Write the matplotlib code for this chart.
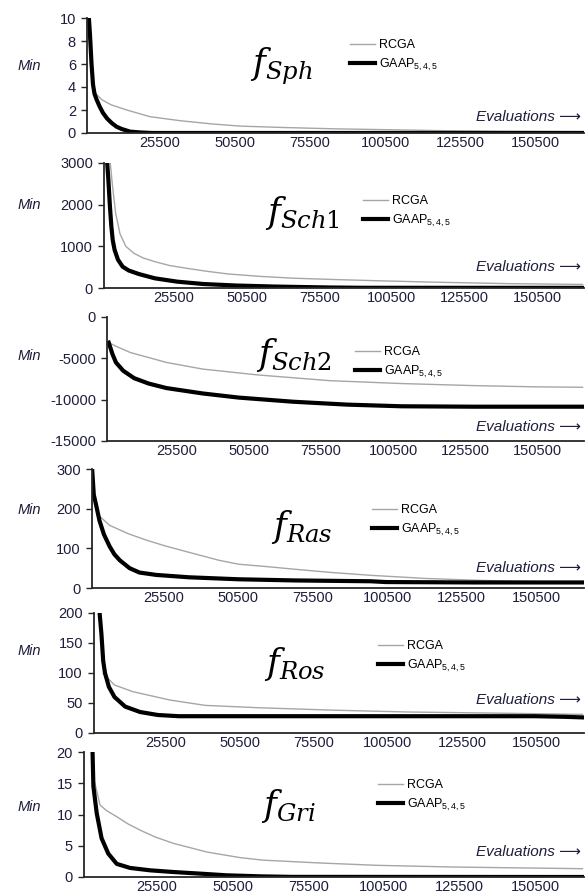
import matplotlib
matplotlib.use('Agg')
import matplotlib.pyplot as plt

plt.rcParams['font.family'] = ['Liberation Sans', 'DejaVu Sans']
plt.rcParams['axes.unicode_minus'] = False
plt.rcParams['mathtext.fontset'] = 'custom'
plt.rcParams['mathtext.rm'] = 'Liberation Sans'
plt.rcParams['mathtext.it'] = 'Liberation Sans:italic'
plt.rcParams['mathtext.bf'] = 'Liberation Sans:bold'

# ---- data ----
x_ticks = [25500, 50500, 75500, 100500, 125500, 150500]
names = ['Sph', 'Sch1', 'Sch2', 'Ras', 'Ros', 'Gri']

sph_rcga_x = [3300, 4500, 6400, 9500, 14700, 22400, 32400, 43300, 52300, 66500, 84000, 105000, 120000, 140000, 166000]
sph_rcga_y = [4.2, 3.4, 2.9, 2.45, 2.0, 1.42, 1.07, 0.78, 0.6, 0.48, 0.36, 0.27, 0.2, 0.15, 0.12]
sph_gaap_x = [2000, 2500, 3000, 3500, 4000, 4700, 5700, 6800, 8200, 9700, 11300, 13000, 15800, 19000, 23000, 166000]
sph_gaap_y = [10.5, 8.5, 6.0, 4.2, 3.4, 2.9, 2.3, 1.75, 1.25, 0.87, 0.55, 0.35, 0.12, 0.05, 0.0, 0.0]

sch1_rcga_x = [3500, 4500, 5500, 7000, 9000, 11800, 15000, 19000, 24000, 30000, 37000, 44300, 55000, 66500, 80000, 95000, 115000, 140000, 166000]
sch1_rcga_y = [3100, 2400, 1800, 1300, 1000, 833, 720, 632, 540, 472, 400, 336, 280, 235, 205, 175, 140, 105, 85]
sch1_gaap_x = [2500, 3000, 3500, 4000, 4500, 5150, 6300, 7900, 10000, 13450, 19000, 26700, 35600, 46700, 60000, 79000, 90000, 166000]
sch1_gaap_y = [3100, 2600, 2000, 1500, 1150, 912, 680, 512, 420, 336, 232, 152, 96, 60, 35, 12, 5, 3]

sch2_rcga_x = [2100, 5000, 9600, 22100, 34600, 53400, 78400, 103400, 128400, 150000, 166000]
sch2_rcga_y = [-3100, -3600, -4300, -5500, -6300, -7000, -7700, -8050, -8300, -8450, -8500]
sch2_gaap_x = [2100, 3400, 4600, 7100, 10900, 15900, 22100, 34600, 47100, 65900, 84600, 103400, 128400, 166000]
sch2_gaap_y = [-3100, -4500, -5500, -6500, -7400, -8050, -8600, -9250, -9750, -10250, -10600, -10800, -10850, -10850]

ras_rcga_x = [3600, 7400, 13600, 20000, 26100, 33000, 44000, 50600, 60000, 69900, 82000, 94900, 113600, 132400, 150000, 166000]
ras_rcga_y = [184, 158, 137, 120, 106, 92, 70, 60, 54, 47, 39, 32, 24, 19, 16, 15]
ras_gaap_x = [1500, 2100, 3000, 4000, 5500, 7400, 9000, 10800, 14100, 17400, 23000, 34000, 50600, 70000, 95000, 100000, 130000, 166000]
ras_gaap_y = [305, 235, 205, 170, 135, 105, 85, 70, 50, 39, 33, 27, 22, 19, 17, 15, 14, 14]

ros_rcga_x = [4600, 8400, 14500, 27000, 39000, 57400, 82400, 107400, 138600, 166000]
ros_rcga_y = [99, 80, 69, 55, 46, 42, 38, 35, 33, 31]
ros_gaap_x = [3300, 4000, 4600, 5200, 6500, 8400, 12000, 17000, 23000, 30000, 150000, 160000, 166000]
ros_gaap_y = [205, 165, 120, 100, 77, 60, 44, 35, 30, 28, 28, 27, 26]

gri_rcga_x = [5100, 6800, 9000, 12300, 16000, 20000, 25000, 30900, 42000, 53000, 60500, 79000, 98000, 123000, 148000, 166000]
gri_rcga_y = [15.0, 11.5, 10.6, 9.65, 8.5, 7.5, 6.4, 5.4, 4.0, 3.1, 2.7, 2.25, 1.87, 1.6, 1.44, 1.33]
gri_gaap_x = [4300, 4600, 5700, 7300, 9500, 12300, 16700, 23300, 30900, 39800, 48600, 60000, 70000, 166000]
gri_gaap_y = [20.5, 14.5, 10.2, 6.2, 3.75, 2.1, 1.45, 1.07, 0.8, 0.54, 0.27, 0.1, 0.02, 0.0]

y_limits = [(0, 10), (0, 3000), (-15000, 0), (0, 300), (0, 200), (0, 20)]
y_steps = [2, 1000, 5000, 100, 50, 5]

rcga = [(sph_rcga_x, sph_rcga_y), (sch1_rcga_x, sch1_rcga_y), (sch2_rcga_x, sch2_rcga_y),
        (ras_rcga_x, ras_rcga_y), (ros_rcga_x, ros_rcga_y), (gri_rcga_x, gri_rcga_y)]
gaap = [(sph_gaap_x, sph_gaap_y), (sch1_gaap_x, sch1_gaap_y), (sch2_gaap_x, sch2_gaap_y),
        (ras_gaap_x, ras_gaap_y), (ros_gaap_x, ros_gaap_y), (gri_gaap_x, gri_gaap_y)]

# ---- layout in pixels (left, top, bottom) of each plot area ----
W, H = 587, 894
RIGHT = 584
boxes = [(87, 18, 133), (104, 163, 288), (107, 317, 441),
         (92, 469, 588), (94, 613, 733), (84, 752, 877)]
title_pos = [(281, 66), (302, 213), (294, 355), (302, 527), (295, 664), (288, 806)]
legend_pos = [(350, 56), (363, 212), (355, 363), (372, 521), (378, 657), (378, 796)]
min_y = [66, 205, 356, 510, 651, 807]
eval_off = [16, 21, 14, 20, 33, 25]

txt_col = '#1e1e3c'

fig = plt.figure(figsize=(W / 100, H / 100), dpi=100)

for i in range(6):
    l, t, b = boxes[i]
    ax = fig.add_axes([l / W, 1 - b / H, (RIGHT - l) / W, (b - t) / H])
    ax.plot(rcga[i][0], rcga[i][1], color='#a6a6a6', lw=1.0, label='RCGA')
    ax.plot(gaap[i][0], gaap[i][1], color='black', lw=3.0, label='GAAP$_{5,4,5}$')

    lo, hi = y_limits[i]
    ax.set_xlim(1500, 166500)
    ax.set_ylim(lo, hi)
    ax.set_yticks(range(lo, hi + 1, y_steps[i]))
    ax.set_xticks(x_ticks)
    ax.set_xticklabels([str(v) for v in x_ticks])

    for s in ['top', 'right']:
        ax.spines[s].set_visible(False)
    for s in ['left', 'bottom']:
        ax.spines[s].set_color('#262626')
        ax.spines[s].set_linewidth(1.3)
    ax.tick_params(axis='x', length=0, pad=2.5, labelsize=10.5, labelcolor=txt_col)
    ax.tick_params(axis='y', length=4, width=1.0, color='#262626', pad=4,
                   labelsize=10.5, labelcolor=txt_col)

    ax.annotate('Evaluations \u27f6', xy=(1, 0), xycoords='axes fraction',
                xytext=(-3, eval_off[i]), textcoords='offset pixels',
                ha='right', va='center', style='italic', fontsize=11, color=txt_col)

    lx, ly = legend_pos[i]
    ax.legend(loc='center left', bbox_to_anchor=(lx / W, 1 - ly / H),
              bbox_transform=fig.transFigure, frameon=False, fontsize=9,
              handlelength=2.0, handletextpad=0.35, labelspacing=0.45,
              borderpad=0, borderaxespad=0)

    tx, ty = title_pos[i]
    fig.text(tx / W, 1 - ty / H, r'$f_{%s}$' % names[i], fontsize=25,
             math_fontfamily='dejavuserif', ha='center', va='center')
    fig.text(29 / W, 1 - min_y[i] / H, 'Min', style='italic', fontsize=10.5,
             color=txt_col, ha='center', va='center')

fig.savefig('out.png', dpi=100)
